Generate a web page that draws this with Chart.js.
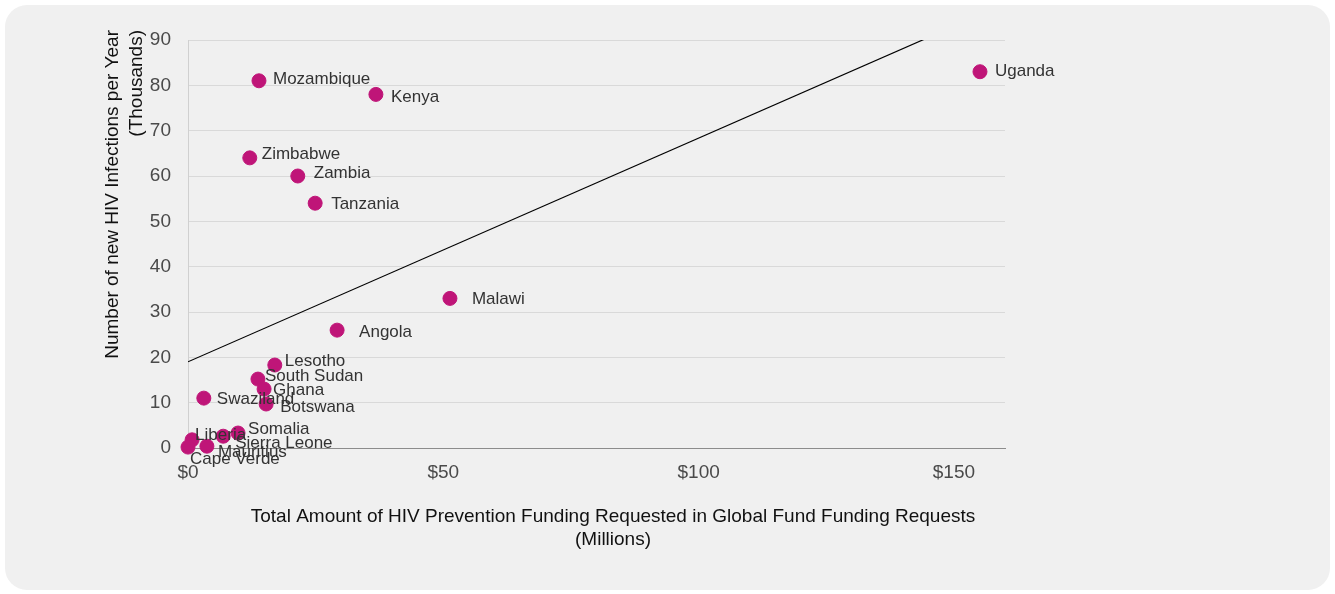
<!DOCTYPE html>
<html>
<head>
<meta charset="utf-8">
<script src="https://cdn.jsdelivr.net/npm/chart.js@4/dist/chart.umd.min.js"></script>
<style>
  html, body { margin: 0; padding: 0; background: #ffffff; }
  #wrap { position: absolute; left: 5px; top: 5px; width: 1325px; height: 585px;
          background: #f0f0f0; border-radius: 22px; overflow: hidden; }
  canvas { display: block; }
</style>
</head>
<body>
<div id="wrap"><canvas id="c" width="1325" height="585"></canvas></div>
<script>
// ---- Data ----
const countries = ["Uganda","Mozambique","Kenya","Zimbabwe","Zambia","Tanzania","Malawi","Angola",
  "Lesotho","South Sudan","Ghana","Botswana","Swaziland","Somalia","Sierra Leone","Liberia","Mauritius","Cape Verde"];
const funding = [155.1, 13.9, 36.8, 12.1, 21.5, 24.9, 51.3, 29.2, 17.0, 13.7, 14.9, 15.3, 3.1, 9.8, 6.9, 0.8, 3.7, 0.0];
const infections = [83, 81, 78, 64, 60, 54, 33, 26, 18.3, 15.2, 13.0, 9.7, 11.0, 3.3, 2.6, 1.8, 0.4, 0.2];
const xTickLabels = {0: "$0", 50: "$50", 100: "$100", 150: "$150"};
const xTitle = ["Total Amount of HIV Prevention Funding Requested in Global Fund Funding Requests", "(Millions)"];
const yTitle = ["Number of new HIV Infections per Year", "(Thousands)"];

// ---- Label placement (layout only) ----
const labelOffsets = [[15,0],[14,-1],[15,3],[12,-4],[16,-3],[16,1],[22,1],[22,2],
  [10,-4],[7,-3],[9,1],[14,3],[13,1],[10,-4],[12,7],[3,-5],[11,6],[2,12]];

// ---- Least-squares trend line ----
const n = funding.length;
const mx = funding.reduce((a,b)=>a+b,0)/n;
const my = infections.reduce((a,b)=>a+b,0)/n;
let sxy = 0, sxx = 0;
for (let i=0;i<n;i++){ sxy += (funding[i]-mx)*(infections[i]-my); sxx += (funding[i]-mx)**2; }
const slope = sxy/sxx, intercept = my - slope*mx;
const X_MIN = 0, X_MAX = 160;
const trend = [{x:X_MIN, y:intercept+slope*X_MIN},{x:X_MAX, y:intercept+slope*X_MAX}];

const points = funding.map((x,i)=>({x:x, y:infections[i]}));
const FONT = "'Liberation Sans', Arial, sans-serif";

const labelPlugin = {
  id: 'pointLabels',
  afterDatasetsDraw(chart) {
    const meta = chart.getDatasetMeta(1);
    const ctx = chart.ctx;
    ctx.save();
    ctx.font = "17px " + FONT;
    ctx.fillStyle = "#333333";
    ctx.textBaseline = "middle";
    ctx.textAlign = "left";
    meta.data.forEach((el,i)=>{
      const o = labelOffsets[i];
      ctx.fillText(countries[i], el.x + o[0], el.y + o[1]);
    });
    ctx.restore();
  }
};

const titlePlugin = {
  id: 'axisTitles',
  afterDraw(chart) {
    const ctx = chart.ctx;
    const top = chart.chartArea.top - 10;
    ctx.save();
    ctx.font = "19px " + FONT;
    ctx.fillStyle = "#111111";
    ctx.textBaseline = "middle";
    ctx.textAlign = "right";
    yTitle.forEach((line, i) => {
      ctx.save();
      ctx.translate(108 + i*24, top);
      ctx.rotate(-Math.PI/2);
      ctx.fillText(line, 0, 0);
      ctx.restore();
    });
    ctx.textAlign = "center";
    xTitle.forEach((line, i) => {
      ctx.fillText(line, 608, chart.chartArea.bottom + 69 + i*23);
    });
    ctx.restore();
  }
};

new Chart(document.getElementById('c'), {
  type: 'scatter',
  data: {
    datasets: [
      { type: 'line', data: trend, borderColor: '#000000', borderWidth: 1.2, pointRadius: 0,
        fill: false, tension: 0 },
      { data: points, backgroundColor: '#bf1578', borderColor: '#bf1578', pointRadius: 7,
        pointHoverRadius: 7, clip: false }
    ]
  },
  options: {
    responsive: false,
    animation: false,
    events: [],
    layout: { padding: { left: 0, top: 35, right: 325, bottom: 0 } },
    plugins: { legend: { display: false }, tooltip: { enabled: false } },
    scales: {
      x: {
        type: 'linear', min: X_MIN, max: X_MAX,
        afterFit(s){ s.height = 142; },
        afterBuildTicks(s){ s.ticks = s.ticks.filter(t => xTickLabels[t.value] !== undefined); },
        ticks: { stepSize: 50, padding: 13, color: '#4a4a4a', font: { family: FONT, size: 19 },
                 callback: v => xTickLabels[v] },
        grid: { display: false, drawTicks: false },
        border: { display: true, color: '#8c8c8c', width: 1 },
        title: { display: false }
      },
      y: {
        min: 0, max: 90,
        afterFit(s){ s.width = 183; },
        ticks: { stepSize: 10, padding: 17, color: '#4a4a4a', font: { family: FONT, size: 19 } },
        grid: { color: '#d9d9d9', drawTicks: false, lineWidth: 1 },
        border: { display: true, color: '#d0d0d0' },
        title: { display: false }
      }
    }
  },
  plugins: [labelPlugin, titlePlugin]
});
</script>
</body>
</html>
